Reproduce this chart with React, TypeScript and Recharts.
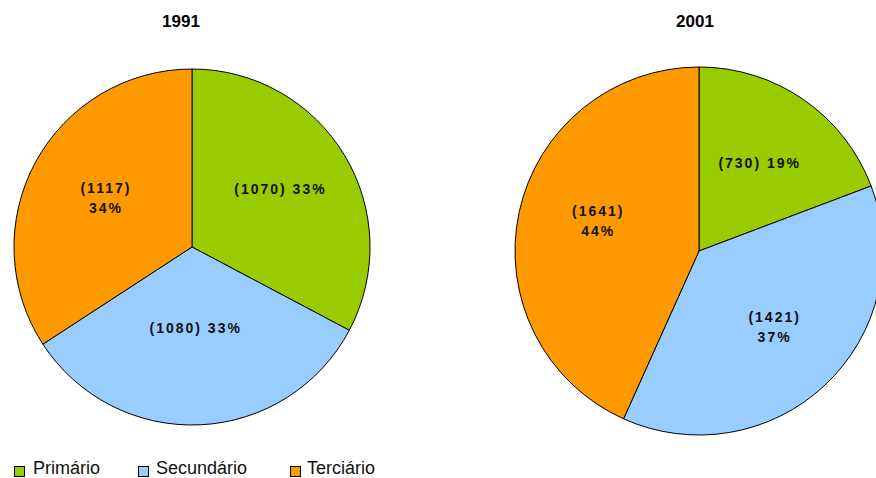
import { Cell, Pie, PieChart } from "recharts";

const CATEGORIES = ["Primário", "Secundário", "Terciário"];
const VALUES_1991 = [1070, 1080, 1117];
const PERCENT_1991 = [33, 33, 34];
const VALUES_2001 = [730, 1421, 1641];
const PERCENT_2001 = [19, 37, 44];

const COLORS = ["#99cc00", "#99ccff", "#ff9900"];
const FONT = "'Liberation Sans', Arial, Helvetica, sans-serif";
const RADIAN = Math.PI / 180;

// label placement: fraction of radius, wrap onto two lines, small vertical nudge
const LABEL_RADIUS_1991 = [0.58, 0.46, 0.55];
const LABEL_WRAP_1991 = [false, false, true];
const LABEL_NUDGE_1991 = [-5, -1, -2];
const LABEL_RADIUS_2001 = [0.58, 0.6, 0.56];
const LABEL_WRAP_2001 = [false, true, true];
const LABEL_NUDGE_2001 = [0, -4, -8];

// legend item x positions (square, text)
const LEGEND_X = [
  [14, 33],
  [138, 156],
  [290, 307],
];

function buildData(values: number[], percents: number[]) {
  return CATEGORIES.map((name, i) => ({ name, value: values[i], pct: percents[i] }));
}

function makeLabel(radius: number[], wrap: boolean[], nudge: number[]) {
  return (props: any) => {
    const { cx, cy, midAngle, outerRadius, index, payload } = props;
    const r = outerRadius * radius[index];
    const x = cx + r * Math.cos(-midAngle * RADIAN);
    const y = cy + r * Math.sin(-midAngle * RADIAN) + nudge[index];
    const value = payload?.value ?? props.value;
    const pct = payload?.pct ?? props.pct;
    const style = {
      fontFamily: FONT,
      fontSize: 14,
      fontWeight: 700,
      letterSpacing: 2,
      fill: "#111",
    };
    if (wrap[index]) {
      return (
        <text x={x} y={y} textAnchor="middle" style={style}>
          <tspan x={x} dy={-5}>{`(${value})`}</tspan>
          <tspan x={x} dy={20}>{`${pct}%`}</tspan>
        </text>
      );
    }
    return (
      <text x={x} y={y} textAnchor="middle" dominantBaseline="central" style={style}>
        {`(${value}) ${pct}%`}
      </text>
    );
  };
}

export default function App() {
  const data1991 = buildData(VALUES_1991, PERCENT_1991);
  const data2001 = buildData(VALUES_2001, PERCENT_2001);
  const titleStyle = {
    position: "absolute" as const,
    top: 12,
    width: 100,
    textAlign: "center" as const,
    fontFamily: FONT,
    fontWeight: 700,
    fontSize: 17,
  };

  return (
    <div style={{ position: "absolute", left: 0, top: 0, width: 876, height: 478, background: "#fff", overflow: "hidden" }}>
      <div style={{ ...titleStyle, left: 131 }}>1991</div>
      <div style={{ ...titleStyle, left: 645 }}>2001</div>
      <PieChart width={876} height={478} margin={{ top: 0, right: 0, bottom: 0, left: 0 }}>
        <Pie
          data={data1991}
          dataKey="value"
          cx={192}
          cy={247}
          outerRadius={178}
          startAngle={90}
          endAngle={-270}
          stroke="#000"
          strokeWidth={1}
          labelLine={false}
          label={makeLabel(LABEL_RADIUS_1991, LABEL_WRAP_1991, LABEL_NUDGE_1991)}
          isAnimationActive={false}
        >
          {data1991.map((d, i) => (
            <Cell key={d.name} fill={COLORS[i]} />
          ))}
        </Pie>
        <Pie
          data={data2001}
          dataKey="value"
          cx={699}
          cy={251}
          outerRadius={184}
          startAngle={90}
          endAngle={-270}
          stroke="#000"
          strokeWidth={1}
          labelLine={false}
          label={makeLabel(LABEL_RADIUS_2001, LABEL_WRAP_2001, LABEL_NUDGE_2001)}
          isAnimationActive={false}
        >
          {data2001.map((d, i) => (
            <Cell key={d.name} fill={COLORS[i]} />
          ))}
        </Pie>
      </PieChart>
      {CATEGORIES.map((name, i) => (
        <div key={name}>
          <span
            style={{
              position: "absolute",
              left: LEGEND_X[i][0],
              top: 466,
              width: 9,
              height: 9,
              background: COLORS[i],
              border: "1px solid #000",
            }}
          />
          <span
            style={{
              position: "absolute",
              left: LEGEND_X[i][1],
              top: 457,
              fontFamily: FONT,
              fontSize: 18,
              lineHeight: "22px",
              color: "#111",
            }}
          >
            {name}
          </span>
        </div>
      ))}
    </div>
  );
}
